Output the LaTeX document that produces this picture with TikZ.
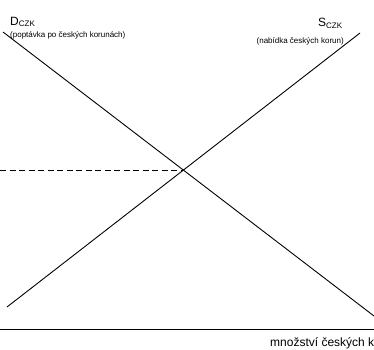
\documentclass[tikz,border=0pt]{standalone}
\usepackage{fontspec}
\setmainfont{Liberation Sans}
\usepackage{xcolor}
\usetikzlibrary{positioning, calc, intersections}

\begin{document}
\begin{tikzpicture}[
    x=1pt, y=1pt,
    curvelabel/.style={inner sep=0pt, font=\fontsize{12}{14}\selectfont},
    notelabel/.style={inner sep=0pt, font=\fontsize{8}{10}\selectfont},
    axislabel/.style={inner sep=0pt, anchor=west, font=\fontsize{12}{14}\selectfont},
    curveline/.style={line width=0.9pt, draw=black},
    axisline/.style={line width=1.7pt, draw=black},
    guideline/.style={line width=0.8pt, draw=black, dash pattern=on 6pt off 3.5pt}
]
    \clip (0,0) rectangle (374,349);
    \useasboundingbox (0,0) rectangle (374,349);

    % Points
    \coordinate (dtop) at (3,317);
    \coordinate (dbot) at (374,33);
    \coordinate (sbot) at (7,42);
    \coordinate (stop) at (360,316);
    \coordinate (axleft) at (0,19.5);
    \coordinate (axright) at (374,19.5);

    % Labels
    \node[curvelabel, anchor=west] (dlab) at (10,327) {D\textsubscript{CZK}};
    \node[notelabel, anchor=west] (dnote) at (10,314) {(poptávka po českých korunách)};
    \node[curvelabel, anchor=west] (slab) at (318,326) {S\textsubscript{CZK}};
    \node[notelabel, anchor=east] (snote) at (344,308) {(nabídka českých korun)};
    \node[axislabel] (qlab) at (270,6) {množství českých korun};

    % Edges
    \draw[curveline, name path=demand] (dtop) -- (dbot);
    \draw[curveline, name path=supply] (sbot) -- (stop);
    \path[name intersections={of=demand and supply, by=eq}];
    \coordinate (eqleft) at (0,0 |- eq);
    \draw[guideline] (eqleft) -- (eq);
    \draw[axisline] (axleft) -- (axright);
\end{tikzpicture}
\end{document}
